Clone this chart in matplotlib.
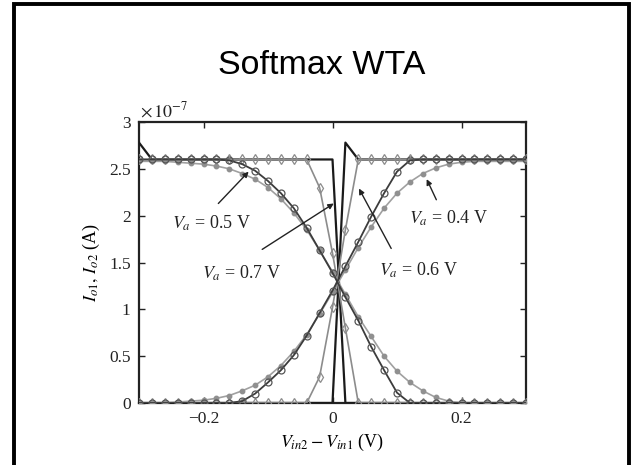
import matplotlib
matplotlib.use('Agg')
import matplotlib.pyplot as plt
from matplotlib.patches import Rectangle
from matplotlib.ticker import FuncFormatter

plt.rcParams['font.family'] = ['Liberation Serif', 'DejaVu Serif']
plt.rcParams['mathtext.fontset'] = 'stix'

# differential input voltage (V)
vin = [-0.30, -0.28, -0.26, -0.24, -0.22, -0.20, -0.18, -0.16, -0.14, -0.12,
       -0.10, -0.08, -0.06, -0.04, -0.02, 0.00, 0.02, 0.04, 0.06, 0.08,
       0.10, 0.12, 0.14, 0.16, 0.18, 0.20, 0.22, 0.24, 0.26, 0.28, 0.30]

# output currents in units of 1e-7 A
io1_04 = [2.58, 2.58, 2.58, 2.57, 2.56, 2.55, 2.53, 2.50, 2.45, 2.39,
          2.30, 2.18, 2.03, 1.85, 1.63, 1.40, 1.16, 0.92, 0.71, 0.50,
          0.34, 0.22, 0.13, 0.06, 0.02, 0.00, 0.00, 0.00, 0.00, 0.00, 0.00]
io2_04 = [0.00, 0.00, 0.00, 0.01, 0.02, 0.03, 0.05, 0.08, 0.13, 0.19,
          0.28, 0.40, 0.55, 0.73, 0.95, 1.18, 1.42, 1.66, 1.88, 2.08,
          2.24, 2.36, 2.45, 2.51, 2.55, 2.57, 2.58, 2.58, 2.58, 2.58, 2.58]

io1_05 = [2.60, 2.60, 2.60, 2.60, 2.60, 2.60, 2.60, 2.59, 2.55, 2.48,
          2.37, 2.24, 2.08, 1.87, 1.63, 1.39, 1.13, 0.88, 0.60, 0.35,
          0.11, 0.00, 0.00, 0.00, 0.00, 0.00, 0.00, 0.00, 0.00, 0.00, 0.00]
io2_05 = [0.00, 0.00, 0.00, 0.00, 0.00, 0.00, 0.00, 0.00, 0.02, 0.10,
          0.22, 0.35, 0.51, 0.72, 0.96, 1.20, 1.46, 1.72, 1.99, 2.24,
          2.47, 2.59, 2.60, 2.60, 2.60, 2.60, 2.60, 2.60, 2.60, 2.60, 2.60]

io1_06 = [2.60, 2.60, 2.60, 2.60, 2.60, 2.60, 2.60, 2.60, 2.60, 2.60,
          2.60, 2.60, 2.60, 2.60, 2.30, 1.60, 0.80, 0.00, 0.00, 0.00,
          0.00, 0.00, 0.00, 0.00, 0.00, 0.00, 0.00, 0.00, 0.00, 0.00, 0.00]
io2_06 = [0.00, 0.00, 0.00, 0.00, 0.00, 0.00, 0.00, 0.00, 0.00, 0.00,
          0.00, 0.00, 0.00, 0.00, 0.28, 1.02, 1.85, 2.60, 2.60, 2.60,
          2.60, 2.60, 2.60, 2.60, 2.60, 2.60, 2.60, 2.60, 2.60, 2.60, 2.60]

io1_07 = [2.78, 2.60, 2.60, 2.60, 2.60, 2.60, 2.60, 2.60, 2.60, 2.60,
          2.60, 2.60, 2.60, 2.60, 2.60, 2.60, 0.00, 0.00, 0.00, 0.00,
          0.00, 0.00, 0.00, 0.00, 0.00, 0.00, 0.00, 0.00, 0.00, 0.00, 0.00]
io2_07 = [0.00, 0.00, 0.00, 0.00, 0.00, 0.00, 0.00, 0.00, 0.00, 0.00,
          0.00, 0.00, 0.00, 0.00, 0.00, 0.00, 2.78, 2.60, 2.60, 2.60,
          2.60, 2.60, 2.60, 2.60, 2.60, 2.60, 2.60, 2.60, 2.60, 2.60, 2.60]

fig = plt.figure(figsize=(6.32, 4.65), dpi=100)
fig.patch.set_facecolor('white')

# slide frame
fig.patches.append(Rectangle((14/632, -0.05), 615/632, 1.05 - 4.3/465,
                             transform=fig.transFigure, fill=False,
                             edgecolor='black', linewidth=2.8))
fig.text(0.509, 1 - 73.5/465, 'Softmax WTA', ha='center', va='baseline',
         fontsize=24.5, family='Liberation Sans')

ax = fig.add_axes([139/632, 1 - 403/465, 387/632, 281/465])

ax.plot(vin, io1_07, color='#1a1a1a', lw=1.6, zorder=3)
ax.plot(vin, io2_07, color='#1a1a1a', lw=1.6, zorder=3)

for ys in (io1_04, io2_04):
    ax.plot(vin, ys, color='#a0a0a0', lw=1.2, marker='o', ms=3.2,
            mfc='#909090', mec='#909090', zorder=4)
for ys in (io1_05, io2_05):
    ax.plot(vin, ys, color='#3c3c3c', lw=1.3, marker='o', ms=5,
            mfc='none', mec='#555555', mew=0.9, zorder=5)
for ys in (io1_06, io2_06):
    ax.plot(vin, ys, color='#8c8c8c', lw=1.2, marker='d', ms=5.5,
            mfc='none', mec='#8c8c8c', mew=0.9, zorder=4)

ax.set_xlim(-0.3, 0.3)
ax.set_ylim(0, 3)
ax.set_xticks([-0.2, 0, 0.2])
ax.set_yticks([0, 0.5, 1, 1.5, 2, 2.5, 3])
fmt = FuncFormatter(lambda v, p: ('%g' % v).replace('-', '\u2212'))
ax.xaxis.set_major_formatter(fmt)
ax.yaxis.set_major_formatter(fmt)
ax.tick_params(direction='in', top=True, right=True, length=4, width=1,
               labelsize=12.5, colors='#222222', pad=6)
for s in ax.spines.values():
    s.set_linewidth(1.6)
    s.set_color('#222222')

ax.text(0.003, 1.003, r'$\times\,10^{-7}$', transform=ax.transAxes,
        ha='left', va='bottom', fontsize=13, color='#222222')
ax.set_xlabel(r'$V_{in2} - V_{in1}$ (V)', fontsize=13, labelpad=3)
ax.set_ylabel(r'$I_{o1},\,I_{o2}$ (A)', fontsize=13, labelpad=5)

arrow = dict(arrowstyle='-|>', color='#222222', lw=1.0,
             mutation_scale=8, shrinkA=0, shrinkB=0)
labels = [
    (r'$V_a$ = 0.5 V', (-0.1876, 1.92), (-0.177, 2.13), (-0.130, 2.47)),
    (r'$V_a$ = 0.7 V', (-0.141, 1.387), (-0.109, 1.64), (0.002, 2.13)),
    (r'$V_a$ = 0.4 V', (0.180, 1.974), (0.161, 2.17), (0.146, 2.39)),
    (r'$V_a$ = 0.6 V', (0.133, 1.42), (0.091, 1.65), (0.041, 2.29)),
]
for txt, pos, tail, tip in labels:
    ax.text(pos[0], pos[1], txt, ha='center', va='center', fontsize=13,
            color='#222222', zorder=6)
    ax.annotate('', xy=tip, xytext=tail, arrowprops=arrow, zorder=6)

fig.savefig('out.png', dpi=100)
